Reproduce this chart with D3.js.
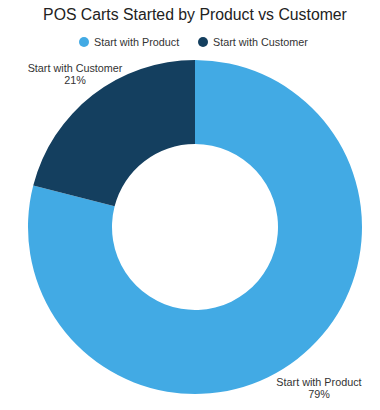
<!DOCTYPE html>
<html><head><meta charset="utf-8">
<script src="https://cdn.jsdelivr.net/npm/d3@7"></script>
<style>body{margin:0;background:#fff;}svg{display:block;}</style>
</head><body><svg id="c" width="380" height="410"></svg>
<script>
const categories = ["Start with Product", "Start with Customer"];
const values = [79, 21];
const colors = ["#42aae4", "#143f5f"];
const title = "POS Carts Started by Product vs Customer";

const svg = d3.select("#c");
const font = "'Liberation Sans', Arial, sans-serif";
svg.append("text").attr("x", 195).attr("y", 20).attr("text-anchor", "middle")
  .attr("font-family", font).attr("font-size", 15.8).attr("fill", "#222").text(title);

const legendX = [84, 203];
const lg = svg.append("g");
categories.forEach((c, i) => {
  lg.append("circle").attr("cx", legendX[i]).attr("cy", 42).attr("r", 5).attr("fill", colors[i]);
  lg.append("text").attr("x", legendX[i] + 10).attr("y", 46).attr("font-family", font)
    .attr("font-size", 10.8).attr("fill", "#333").text(c);
});

const cx = 195, cy = 227, R = 167, r = 83;
const pie = d3.pie().sort(null).value(d => d)(values);
const arc = d3.arc().innerRadius(r).outerRadius(R);
const g = svg.append("g").attr("transform", `translate(${cx},${cy})`);
g.selectAll("path").data(pie).join("path").attr("d", arc).attr("fill", (d, i) => colors[i]);

const labelArc = d3.arc().innerRadius(199).outerRadius(199);
const total = d3.sum(values);
pie.forEach((d, i) => {
  const [x, y] = labelArc.centroid(d);
  const t = g.append("text").attr("text-anchor", "middle").attr("font-family", font)
    .attr("font-size", 10.8).attr("fill", "#333");
  t.append("tspan").attr("x", x + 2).attr("y", y + 2).text(categories[i]);
  t.append("tspan").attr("x", x + 2).attr("y", y + 14).text(Math.round(values[i] / total * 100) + "%");
});
</script></body></html>
